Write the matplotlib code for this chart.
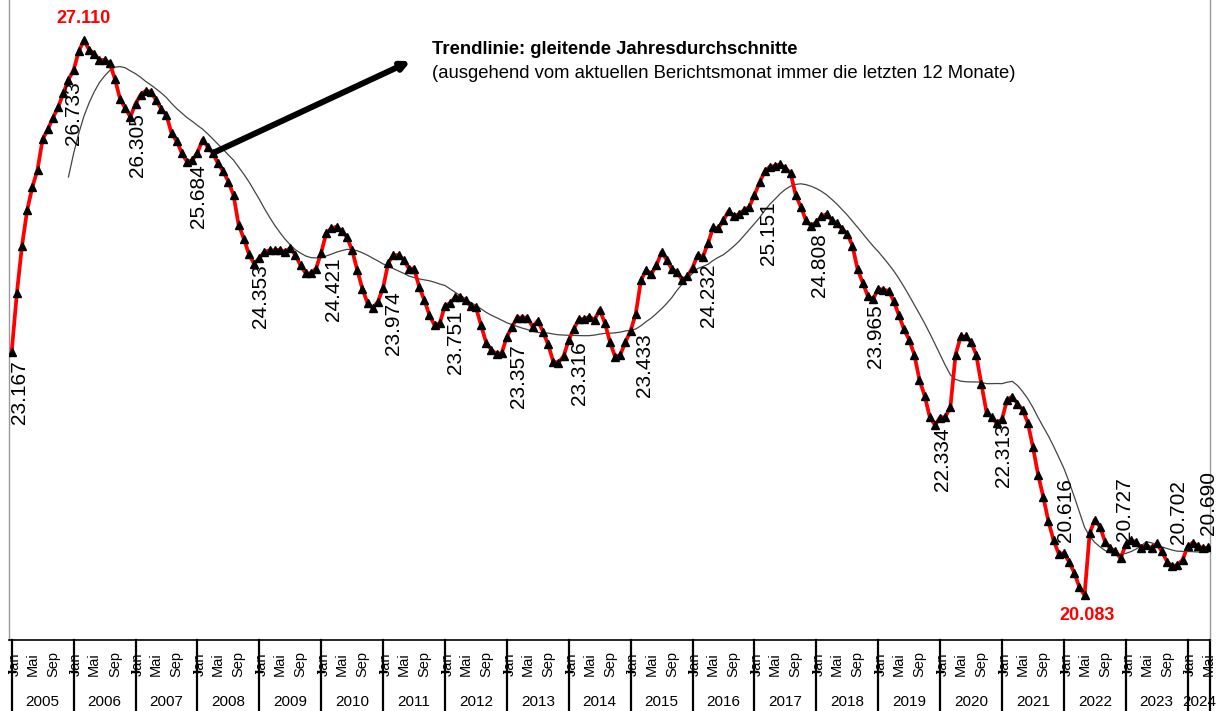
import matplotlib
matplotlib.use("Agg")
import matplotlib.pyplot as plt
import numpy as np
import pandas as pd

plt.rcParams['font.family'] = ['Liberation Sans', 'DejaVu Sans']

# monthly values, Jan..Dec per year
y2005 = [23.167, 23.91, 24.51, 24.96, 25.25, 25.47, 25.86, 25.98, 26.13, 26.26, 26.44, 26.61]
y2006 = [26.733, 26.97, 27.110, 26.99, 26.94, 26.86, 26.86, 26.82, 26.62, 26.37, 26.25, 26.14]
y2007 = [26.305, 26.42, 26.47, 26.46, 26.35, 26.24, 26.16, 25.93, 25.83, 25.68, 25.57, 25.59]
y2008 = [25.684, 25.85, 25.76, 25.68, 25.55, 25.45, 25.32, 25.15, 24.77, 24.60, 24.40, 24.28]
y2009 = [24.353, 24.43, 24.45, 24.45, 24.46, 24.43, 24.48, 24.39, 24.26, 24.16, 24.16, 24.22]
y2010 = [24.421, 24.67, 24.73, 24.75, 24.69, 24.62, 24.45, 24.20, 23.96, 23.78, 23.72, 23.80]
y2011 = [23.974, 24.29, 24.39, 24.39, 24.33, 24.22, 24.22, 23.99, 23.82, 23.63, 23.50, 23.53]
y2012 = [23.751, 23.78, 23.86, 23.86, 23.82, 23.74, 23.73, 23.50, 23.28, 23.19, 23.14, 23.15]
y2013 = [23.357, 23.48, 23.60, 23.60, 23.60, 23.48, 23.56, 23.42, 23.26, 23.04, 23.03, 23.11]
y2014 = [23.316, 23.46, 23.58, 23.58, 23.61, 23.57, 23.70, 23.53, 23.29, 23.10, 23.13, 23.29]
y2015 = [23.433, 23.65, 24.07, 24.20, 24.15, 24.26, 24.43, 24.33, 24.21, 24.18, 24.07, 24.12]
y2016 = [24.232, 24.39, 24.37, 24.54, 24.74, 24.73, 24.83, 24.95, 24.88, 24.91, 24.96, 25.00]
y2017 = [25.151, 25.31, 25.45, 25.51, 25.52, 25.54, 25.49, 25.43, 25.15, 25.00, 24.83, 24.76]
y2018 = [24.808, 24.88, 24.91, 24.83, 24.79, 24.72, 24.66, 24.51, 24.21, 24.04, 23.87, 23.83]
y2019 = [23.965, 23.95, 23.94, 23.81, 23.63, 23.45, 23.32, 23.13, 22.81, 22.61, 22.34, 22.24]
y2020 = [22.334, 22.34, 22.47, 23.13, 23.36, 23.36, 23.29, 23.13, 22.76, 22.40, 22.34, 22.26]
y2021 = [22.313, 22.56, 22.60, 22.51, 22.43, 22.27, 21.96, 21.61, 21.33, 21.02, 20.78, 20.61]
y2022 = [20.616, 20.51, 20.37, 20.19, 20.083, 20.87, 21.04, 20.95, 20.76, 20.68, 20.64, 20.55]
y2023 = [20.727, 20.78, 20.76, 20.68, 20.72, 20.68, 20.74, 20.64, 20.51, 20.45, 20.47, 20.53]
y2024 = [20.702, 20.75, 20.71, 20.68, 20.690]

years = list(range(2005, 2025))
month_ticks = {0: 'Jan', 4: 'Mai', 8: 'Sep'}

values = np.array(y2005 + y2006 + y2007 + y2008 + y2009 + y2010 + y2011 + y2012 +
                  y2013 + y2014 + y2015 + y2016 + y2017 + y2018 + y2019 + y2020 +
                  y2021 + y2022 + y2023 + y2024)
idx = np.arange(len(values))
trend = pd.Series(values).rolling(12).mean()

# indices of labelled points: every January, the last month, max and min
jan_idx = list(range(0, len(values), 12)) + [len(values) - 1]
# label offsets in pixels (dx, dy) for the January / last-month labels
jan_offsets = [(8, -40), (0, -43), (2, -41), (1, -43), (1, -38), (12, -37), (10, -35),
               (11, -37), (12, -39), (11, -33), (14, -34), (16, -28), (14, -38),
               (3, -43), (-3, -47), (2, -42), (2, -36), (2, 43), (-1, 35), (-9, 34), (0, 44)]

fig = plt.figure(figsize=(12.27, 7.11), dpi=100)
ax = fig.add_axes([9.4 / 1227, 71 / 711, 1200.6 / 1227, 640 / 711])
ax.set_xlim(-0.45, len(values) - 1 + 0.33)
ax.set_ylim(19.518, 27.619)

ax.plot(idx, trend, color='#444444', lw=0.9, zorder=2)
ax.plot(idx, values, color='#ff0000', lw=2.7, solid_joinstyle='round', zorder=3)
ax.plot(idx, values, ls='none', marker='^', ms=5.8, color='black', zorder=4)

for i, (dx, dy) in zip(jan_idx, jan_offsets):
    ax.annotate(f'{values[i]:.3f}', (idx[i], values[i]), xytext=(dx, dy),
                textcoords='offset pixels', rotation=90, ha='center', va='center',
                fontsize=15, color='black', zorder=5)

imax = int(np.argmax(values))
imin = int(np.argmin(values))
ax.annotate(f'{values[imax]:.3f}', (idx[imax], values[imax]), xytext=(0, 22),
            textcoords='offset pixels', ha='center', va='center',
            fontsize=13, fontweight='bold', color='#ff0000')
ax.annotate(f'{values[imin]:.3f}', (idx[imin], values[imin]), xytext=(3, -20),
            textcoords='offset pixels', ha='center', va='center',
            fontsize=13, fontweight='bold', color='#ff0000')

# spines
for side in ('left', 'right'):
    ax.spines[side].set_color('#999999')
    ax.spines[side].set_linewidth(1)
ax.spines['top'].set_visible(False)
ax.spines['bottom'].set_color('black')
ax.spines['bottom'].set_linewidth(1.2)
ax.set_xticks([])
ax.set_yticks([])

# two-level category axis below the plot
xt = ax.get_xaxis_transform()
bounds = list(range(0, len(values), 12)) + [ax.get_xlim()[1]]
for b in bounds:
    ax.plot([b, b], [0, -0.12], transform=xt, color='black', lw=1.6, clip_on=False)
for b in bounds[:-1]:
    ax.plot([b - 0.6, b + 0.6], [-0.05, -0.05], transform=xt, color='black',
            lw=1, clip_on=False)
for i in idx:
    m = i % 12
    if m in month_ticks:
        ax.text(i + (0.5 if m == 0 else 0), -0.038, month_ticks[m], transform=xt,
                rotation=90, ha='center', va='center', fontsize=10.5)
for k, yr in enumerate(years):
    start = 12 * k
    end = min(start + 12, ax.get_xlim()[1])
    ax.text((start + end) / 2, -0.097, str(yr), transform=xt, ha='center',
            va='center', fontsize=11)

# trend line note with arrow
fig.patches.append(matplotlib.patches.FancyArrowPatch(
    (213 / 1227, 1 - 153 / 711), (413 / 1227, 1 - 60 / 711),
    transform=fig.transFigure, arrowstyle='-|>', mutation_scale=12,
    lw=4.3, color='black'))
fig.text(432 / 1227, 1 - 50 / 711, 'Trendlinie: gleitende Jahresdurchschnitte',
         fontsize=13.3, fontweight='bold', va='center', ha='left')
fig.text(432 / 1227, 1 - 73 / 711,
         '(ausgehend vom aktuellen Berichtsmonat immer die letzten 12 Monate)',
         fontsize=13.3, va='center', ha='left')

fig.savefig('out.png', dpi=100)
